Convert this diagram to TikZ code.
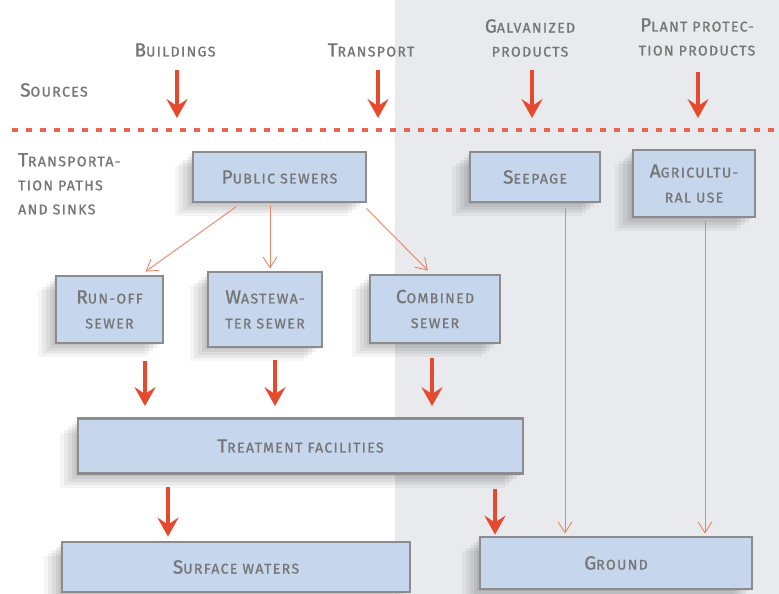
\documentclass[tikz,border=0pt]{standalone}
\usepackage{fontspec}
\newfontfamily\hand[LetterSpace=10,FakeBold=1.2]{Fira Sans}
\usetikzlibrary{arrows.meta,shadows,calc}
\definecolor{bgray}{HTML}{E9EAEE}
\definecolor{boxfill}{HTML}{C6D6EC}
\definecolor{boxline}{HTML}{8C8C8C}
\definecolor{txt}{HTML}{767676}
\definecolor{redA}{HTML}{E64A2E}
\definecolor{redB}{HTML}{E8866A}
\newcommand\hc[2]{{\fontsize{19}{25}\selectfont #1}#2}
\begin{document}
\begin{tikzpicture}[x=1pt,y=-1pt,
  box/.style={draw=boxline, line width=2.8pt, fill=boxfill, text=txt, align=center, inner sep=0pt,
    font=\hand\fontsize{14}{25}\selectfont,
    drop shadow={shadow xshift=-18pt, shadow yshift=-14pt, opacity=0.04, fill=black},
    drop shadow={shadow xshift=-14pt, shadow yshift=-11pt, opacity=0.05, fill=black},
    drop shadow={shadow xshift=-10pt, shadow yshift=-8pt, opacity=0.055, fill=black},
    drop shadow={shadow xshift=-6pt, shadow yshift=-5pt, opacity=0.06, fill=black},
    drop shadow={shadow xshift=-3pt, shadow yshift=-2pt, opacity=0.06, fill=black}},
  lbl/.style={text=txt, align=center, inner sep=0pt, font=\hand\fontsize{14}{24}\selectfont},
  big/.style={draw=redA, line width=3.8pt, -{Stealth[length=19pt,width=21pt,inset=7pt]}},
  thin/.style={draw=redB, line width=0.9pt, -{Straight Barb[length=11pt,width=14pt]}},
  dots/.style={draw=redA!85, line width=4pt, dash pattern=on 6pt off 8pt}]
\useasboundingbox (0,0) rectangle (779,594);
\fill[white] (0,0) rectangle (779,594);
\fill[bgray] (395,0) rectangle (779,594);

% header labels
\node[lbl, anchor=west] (src) at (20,90) {\hc{S}{OURCES}};
\node[lbl] (bld) at (175,50) {\hc{B}{UILDINGS}};
\node[lbl] (trn) at (371,50) {\hc{T}{RANSPORT}};
\node[lbl] (gal) at (530,38) {\hc{G}{ALVANIZED}\\PRODUCTS};
\node[lbl] (pla) at (697,37) {\hc{P}{LANT PROTEC-}\\TION PRODUCTS};
\node[lbl, anchor=north west, align=left] (tps) at (18,153) {\hc{T}{RANSPORTA-}\\TION PATHS\\AND SINKS};

% source arrows
\draw[big] ($(bld.center)+(2,20)$) -- ($(bld.center)+(2,68)$);
\draw[big] ($(trn.center)+(7,20)$) -- ($(trn.center)+(7,68)$);
\draw[big] ($(gal.center)+(2,32)$) -- ($(gal.center)+(2,80)$);
\draw[big] ($(pla.center)+(1,35)$) -- ($(pla.center)+(1,81)$);

% dotted line
\draw[dots] (12,130) -- (779,130);

% boxes
\node[box, minimum width=173pt, minimum height=50pt] (pub) at (279.5,177) {\hc{P}{UBLIC SEWERS}};
\node[box, minimum width=130pt, minimum height=50pt] (seep) at (535,177) {\hc{S}{EEPAGE}};
\node[box, minimum width=122pt, minimum height=67pt] (agri) at (694,183.5) {\hc{A}{GRICULTU-}\\RAL USE};
\node[box, minimum width=107pt, minimum height=67pt] (run) at (109.5,309.5) {\hc{R}{UN-OFF}\\SEWER};
\node[box, minimum width=114pt, minimum height=75pt] (waste) at (265,309.5) {\hc{W}{ASTEWA-}\\TER SEWER};
\node[box, minimum width=130pt, minimum height=68pt] (comb) at (435,309) {\hc{C}{OMBINED}\\SEWER};
\node[box, minimum width=445pt, minimum height=55pt] (treat) at (300.5,446) {\hc{T}{REATMENT FACILITIES}};
\node[box, minimum width=348pt, minimum height=50pt] (surf) at (236,567) {\hc{S}{URFACE WATERS}};
\node[box, minimum width=272pt, minimum height=52pt] (ground) at (616,563) {\hc{G}{ROUND}};

% thin arrows
\draw[thin] ($(pub.south west)+(45,3)$) -- ($(run.north)+(36,-3)$);
\draw[thin] ($(pub.south)+(-9.5,3)$) -- ($(waste.north)+(5,-2)$);
\draw[thin] ($(pub.south east)+(-1,5)$) -- ($(comb.north)+(-7,-3)$);
\draw[thin] ($(seep.south)+(30,5)$) -- ($(ground.north)+(-51,-2)$);
\draw[thin] ($(agri.south)+(11,3)$) -- ($(ground.north)+(89,-2)$);

% thick arrows
\draw[big] ($(run.south)+(35.5,17)$) -- ($(run.south |- treat.north)+(35.5,-11)$);
\draw[big] ($(waste.south)+(10,12)$) -- ($(waste.south |- treat.north)+(10,-11)$);
\draw[big] ($(comb.south)+(-3,14)$) -- ($(comb.south |- treat.north)+(-3,-11)$);
\draw[big] ($(treat.south)+(-132.5,12)$) -- ($(treat.south |- surf.north)+(-132.5,-4)$);
\draw[big] ($(treat.south)+(194.5,14)$) -- ($(treat.south |- ground.north)+(194.5,-1)$);
\end{tikzpicture}
\end{document}
